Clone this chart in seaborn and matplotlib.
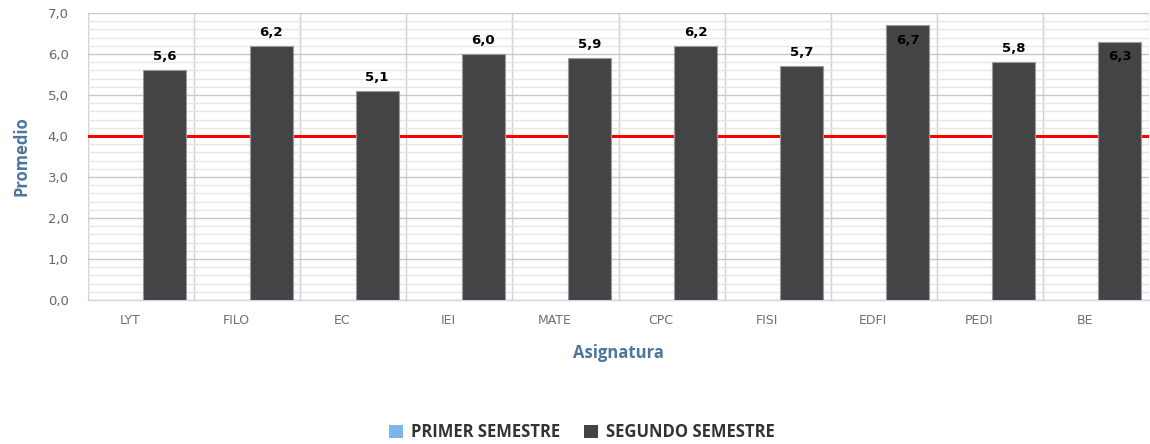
import matplotlib
matplotlib.use("Agg")
import matplotlib.pyplot as plt
import matplotlib.transforms as mtransforms
from matplotlib.patches import Patch
from matplotlib.ticker import MultipleLocator, FixedLocator, FuncFormatter
import seaborn as sns
import numpy as np
import pandas as pd


# ------------------------------------------------
# DATA
# ------------------------------------------------

asignaturas = ["LYT", "FILO", "EC", "IEI", "MATE", "CPC", "FISI", "EDFI", "PEDI", "BE"]
primer_semestre = [np.nan] * 10
segundo_semestre = [5.6, 6.2, 5.1, 6.0, 5.9, 6.2, 5.7, 6.7, 5.8, 6.3]
series_names = ["PRIMER SEMESTRE", "SEGUNDO SEMESTRE"]
limite = 4.0

# labels drawn inside the bar instead of above
inside_labels = ["EDFI", "BE"]


# ------------------------------------------------
# STYLE
# ------------------------------------------------

sns.set_theme(style="white")
plt.rcParams["font.family"] = ["DejaVu Sans"]

COLORS = ["#7cb5ec", "#434348"]
TITLE_COLOR = "#4d759e"
TITLE_FONT = ["Open Sans", "DejaVu Sans"]

df = pd.DataFrame({
    "Asignatura": asignaturas * 2,
    "Promedio": primer_semestre + segundo_semestre,
    "Semestre": [series_names[0]] * 10 + [series_names[1]] * 10,
})

fig = plt.figure(figsize=(11.5, 4.44), dpi=100)
ax = fig.add_axes([88 / 1150, 1 - 300 / 444, (1149 - 88) / 1150, 287 / 444])

sns.barplot(
    data=df,
    x="Asignatura",
    y="Promedio",
    hue="Semestre",
    hue_order=series_names,
    order=asignaturas,
    palette=COLORS,
    width=0.9,
    gap=0.1,
    edgecolor="#9a9a9a",
    linewidth=0.8,
    legend=False,
    ax=ax,
    zorder=3,
)

# red reference line behind the bars
ax.axhline(limite, color="#ff0000", linewidth=2.2, zorder=2)

# ------------------------------------------------
# AXES
# ------------------------------------------------

ax.set_ylim(0, 7)
ax.set_xlim(-0.5, len(asignaturas) - 0.5)

ax.yaxis.set_major_locator(MultipleLocator(1))
ax.yaxis.set_minor_locator(MultipleLocator(0.2))
ax.yaxis.set_major_formatter(FuncFormatter(lambda v, p: f"{v:.1f}".replace(".", ",")))
ax.grid(axis="y", which="major", color="#c8c8c8", linewidth=1, zorder=0)
ax.grid(axis="y", which="minor", color="#e6e6e6", linewidth=1, zorder=0)

ax.xaxis.set_minor_locator(FixedLocator(np.arange(len(asignaturas) + 1) - 0.5))
ax.grid(axis="x", which="minor", color="#d0d0d0", linewidth=1, zorder=0)
ax.grid(axis="x", which="major", visible=False)
ax.set_axisbelow(True)

ax.tick_params(axis="y", which="both", length=0, labelsize=9.5, labelcolor="#666666", pad=14)
ax.tick_params(axis="x", which="major", length=0, labelsize=9, labelcolor="#707070", pad=10)
ax.tick_params(axis="x", which="minor", length=8, width=1, color="#ccd6eb")

shift = mtransforms.ScaledTranslation(-0.11, 0, fig.dpi_scale_trans)
for lbl in ax.get_xticklabels():
    lbl.set_transform(lbl.get_transform() + shift)

for side in ["top", "right", "left"]:
    ax.spines[side].set_visible(False)
ax.spines["bottom"].set_color("#ccd6eb")
ax.spines["bottom"].set_linewidth(1)

ax.set_ylabel("Promedio", fontsize=12, fontweight="bold", color=TITLE_COLOR,
              family=TITLE_FONT, labelpad=12)
ax.set_xlabel("Asignatura", fontsize=12, fontweight="bold", color=TITLE_COLOR,
              family=TITLE_FONT, labelpad=12)

# ------------------------------------------------
# DATA LABELS
# ------------------------------------------------

bars = ax.containers[-1]
for name, val, patch in zip(asignaturas, segundo_semestre, bars.patches):
    cx = patch.get_x() + patch.get_width() / 2
    top = patch.get_height()
    text = f"{val:.1f}".replace(".", ",")
    if name in inside_labels:
        ax.annotate(text, (cx, top), xytext=(0, -6), textcoords="offset points",
                    ha="center", va="top", fontsize=9.5, fontweight="bold",
                    color="#000000", zorder=5)
    else:
        ax.annotate(text, (cx, top), xytext=(0, 5), textcoords="offset points",
                    ha="center", va="bottom", fontsize=9.5, fontweight="bold",
                    color="#000000", zorder=5)

# ------------------------------------------------
# LEGEND
# ------------------------------------------------

handles = [Patch(facecolor=c, edgecolor="none") for c in COLORS]
fig.legend(
    handles, series_names,
    loc="center", bbox_to_anchor=(582 / 1150, 1 - 432 / 444),
    ncol=2, frameon=False,
    prop={"family": TITLE_FONT, "weight": "bold", "size": 12},
    labelcolor="#333333",
    handlelength=0.85, handleheight=0.85, handletextpad=0.5, columnspacing=1.4,
)

fig.savefig("out.png", dpi=100)
